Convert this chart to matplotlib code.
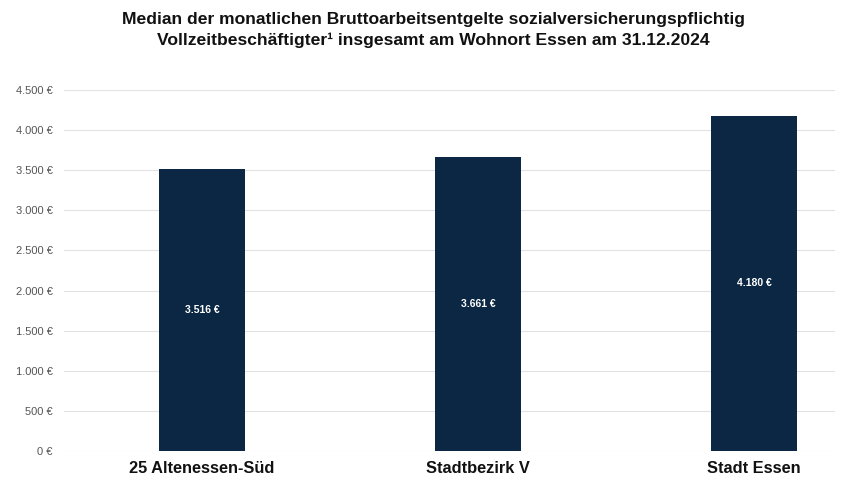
import matplotlib
matplotlib.use("Agg")
import matplotlib.pyplot as plt
from matplotlib.ticker import FuncFormatter

categories = ["25 Altenessen-Süd", "Stadtbezirk V", "Stadt Essen"]
values = [3516, 3661, 4180]
yticks = [0, 500, 1000, 1500, 2000, 2500, 3000, 3500, 4000, 4500]

plt.rcParams['font.family'] = ['Liberation Sans', 'DejaVu Sans']

def fmt(v):
    return f"{int(v):,}".replace(",", ".") + " €"

fig = plt.figure(figsize=(8.41, 4.79), dpi=100)
ax = fig.add_axes([64/841, 28/479, (835-64)/841, (451-90)/479])

x = list(range(len(categories)))
ax.bar(x, values, width=0.31, color="#0c2743", zorder=3)
for xi, v in zip(x, values):
    ax.text(xi, v/2, fmt(v), ha="center", va="center", color="white",
            fontsize=7.5, fontweight="bold", zorder=4)

ax.set_xlim(-0.5, 2.293)
ax.set_ylim(0, 4500)
ax.set_yticks(yticks)
ax.yaxis.set_major_formatter(FuncFormatter(lambda v, p: fmt(v)))
ax.set_xticks(x)
ax.set_xticklabels(categories, fontsize=11.8, fontweight="bold", color="#111111")
ax.tick_params(axis="y", length=0, labelsize=8, labelcolor="#555555", pad=8)
ax.tick_params(axis="x", length=0, pad=7)
ax.grid(axis="y", color="#e2e2e2", linewidth=0.8, zorder=0)
for s in ax.spines.values():
    s.set_visible(False)

fig.text(0.515, 0.975, "Median der monatlichen Bruttoarbeitsentgelte sozialversicherungspflichtig\nVollzeitbeschäftigter¹ insgesamt am Wohnort Essen am 31.12.2024",
         ha="center", va="top", fontsize=12.6, fontweight="bold", color="#111111", linespacing=1.45)

fig.savefig("out.png", dpi=100, facecolor="white")
